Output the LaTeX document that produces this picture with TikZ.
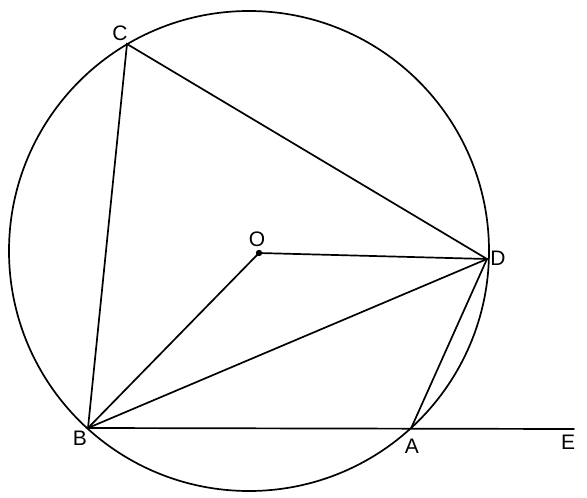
\documentclass[tikz,border=0pt]{standalone}
\usepackage{fontspec}
\setmainfont{Liberation Sans}
\begin{document}
\begin{tikzpicture}[x=1pt,y=-1pt,
  seg/.style={line width=1.7pt, line cap=round},
  lbl/.style={font=\fontsize{21}{24}\selectfont, inner sep=0pt}]
\useasboundingbox (0,0) rectangle (587,498);
\coordinate (Z) at (249,251);
\coordinate (C) at (127,44);
\coordinate (O) at (259,253);
\coordinate (D) at (487,259);
\coordinate (B) at (88,428);
\coordinate (A) at (411,428.5);
\coordinate (E) at (574,429);
\draw[seg] (Z) circle[radius=240];
\draw[seg] (B) -- (C) -- (D) -- (A);
\draw[seg] (B) -- (E);
\draw[seg] (B) -- (D);
\draw[seg] (B) -- (O) -- (D);
\fill (O) circle[radius=3.2];
\node[lbl] (lC) at (120,33) {C};
\node[lbl] (lO) at (257,239) {O};
\node[lbl] (lD) at (498,258) {D};
\node[lbl] (lB) at (80,438) {B};
\node[lbl] (lA) at (412,446) {A};
\node[lbl] (lE) at (568,442) {E};
\end{tikzpicture}
\end{document}
